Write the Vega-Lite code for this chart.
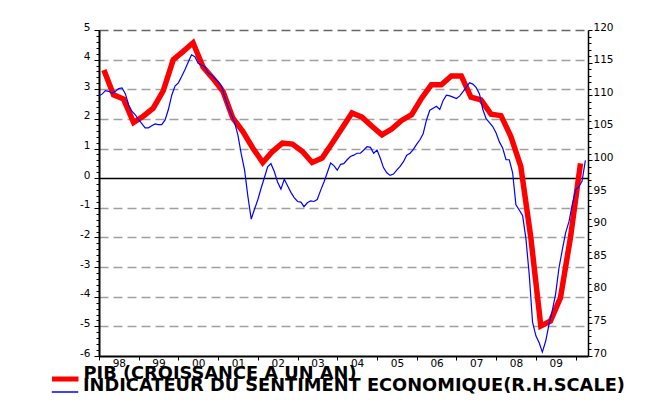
{
  "$schema": "https://vega.github.io/schema/vega-lite/v6.json",
  "width": 489,
  "height": 326,
  "autosize": {"type": "none"},
  "padding": {"left": 99, "top": 30, "right": 73, "bottom": 47},
  "background": "white",
  "config": {
    "view": {"stroke": null},
    "font": "DejaVu Sans",
    "axis": {"labelFont": "DejaVu Sans", "labelFontSize": 10.5, "labelColor": "#000000", "tickColor": "#000000", "domainColor": "#000000", "title": null, "labelOverlap": false},
    "legend": {"orient": "none", "title": null, "symbolType": "stroke", "symbolSize": 700, "labelFont": "DejaVu Sans", "labelFontWeight": "bold", "labelFontSize": 17.8, "labelColor": "#000000", "labelLimit": 0, "clipHeight": 12, "rowPadding": 0, "padding": 0}
  },
  "datasets": {
    "pib": [
      {"date": "1998-02-15", "value": 3.65}, {"date": "1998-05-15", "value": 2.81}, {"date": "1998-08-15", "value": 2.67}, {"date": "1998-11-15", "value": 1.88},
      {"date": "1999-02-15", "value": 2.1}, {"date": "1999-05-15", "value": 2.36}, {"date": "1999-08-15", "value": 2.95}, {"date": "1999-11-15", "value": 4.0},
      {"date": "2000-02-15", "value": 4.28}, {"date": "2000-05-15", "value": 4.57}, {"date": "2000-08-15", "value": 3.75}, {"date": "2000-11-15", "value": 3.36},
      {"date": "2001-02-15", "value": 2.92}, {"date": "2001-05-15", "value": 2.03}, {"date": "2001-08-15", "value": 1.58}, {"date": "2001-11-15", "value": 1.02},
      {"date": "2002-02-15", "value": 0.53}, {"date": "2002-05-15", "value": 0.9}, {"date": "2002-08-15", "value": 1.18}, {"date": "2002-11-15", "value": 1.15},
      {"date": "2003-02-15", "value": 0.9}, {"date": "2003-05-15", "value": 0.53}, {"date": "2003-08-15", "value": 0.68}, {"date": "2003-11-15", "value": 1.18},
      {"date": "2004-02-15", "value": 1.69}, {"date": "2004-05-15", "value": 2.2}, {"date": "2004-08-15", "value": 2.06}, {"date": "2004-11-15", "value": 1.75},
      {"date": "2005-02-15", "value": 1.46}, {"date": "2005-05-15", "value": 1.66}, {"date": "2005-08-15", "value": 1.95}, {"date": "2005-11-15", "value": 2.14},
      {"date": "2006-02-15", "value": 2.7}, {"date": "2006-05-15", "value": 3.15}, {"date": "2006-08-15", "value": 3.15}, {"date": "2006-11-15", "value": 3.45},
      {"date": "2007-02-15", "value": 3.45}, {"date": "2007-05-15", "value": 2.73}, {"date": "2007-08-15", "value": 2.64}, {"date": "2007-11-15", "value": 2.16},
      {"date": "2008-02-15", "value": 2.11}, {"date": "2008-05-15", "value": 1.41}, {"date": "2008-08-15", "value": 0.4}, {"date": "2008-11-15", "value": -2.0},
      {"date": "2009-02-15", "value": -4.99}, {"date": "2009-05-15", "value": -4.82}, {"date": "2009-08-15", "value": -4.03}, {"date": "2009-11-15", "value": -2.0},
      {"date": "2010-02-15", "value": 0.5}
    ],
    "esi": [
      {"date": "1998-01-01", "value": 109.9}, {"date": "1998-02-01", "value": 110.2}, {"date": "1998-03-01", "value": 110.7}, {"date": "1998-04-01", "value": 110.6}, {"date": "1998-05-01", "value": 110.3}, {"date": "1998-06-01", "value": 110.6}, {"date": "1998-07-01", "value": 111.0}, {"date": "1998-08-01", "value": 111.1}, {"date": "1998-09-01", "value": 110.2}, {"date": "1998-10-01", "value": 108.5}, {"date": "1998-11-01", "value": 107.5}, {"date": "1998-12-01", "value": 107.0},
      {"date": "1999-01-01", "value": 106.2}, {"date": "1999-02-01", "value": 105.6}, {"date": "1999-03-01", "value": 105.0}, {"date": "1999-04-01", "value": 105.0}, {"date": "1999-05-01", "value": 105.3}, {"date": "1999-06-01", "value": 105.6}, {"date": "1999-07-01", "value": 105.5}, {"date": "1999-08-01", "value": 105.5}, {"date": "1999-09-01", "value": 106.2}, {"date": "1999-10-01", "value": 107.8}, {"date": "1999-11-01", "value": 110.0}, {"date": "1999-12-01", "value": 111.4},
      {"date": "2000-01-01", "value": 111.9}, {"date": "2000-02-01", "value": 112.9}, {"date": "2000-03-01", "value": 113.9}, {"date": "2000-04-01", "value": 115.1}, {"date": "2000-05-01", "value": 116.2}, {"date": "2000-06-01", "value": 115.9}, {"date": "2000-07-01", "value": 114.9}, {"date": "2000-08-01", "value": 114.6}, {"date": "2000-09-01", "value": 114.4}, {"date": "2000-10-01", "value": 113.4}, {"date": "2000-11-01", "value": 113.1}, {"date": "2000-12-01", "value": 112.6},
      {"date": "2001-01-01", "value": 112.1}, {"date": "2001-02-01", "value": 111.4}, {"date": "2001-03-01", "value": 109.8}, {"date": "2001-04-01", "value": 108.3}, {"date": "2001-05-01", "value": 107.1}, {"date": "2001-06-01", "value": 105.8}, {"date": "2001-07-01", "value": 103.9}, {"date": "2001-08-01", "value": 101.0}, {"date": "2001-09-01", "value": 98.5}, {"date": "2001-10-01", "value": 94.5}, {"date": "2001-11-01", "value": 91.0}, {"date": "2001-12-01", "value": 92.5},
      {"date": "2002-01-01", "value": 94.0}, {"date": "2002-02-01", "value": 95.8}, {"date": "2002-03-01", "value": 97.3}, {"date": "2002-04-01", "value": 99.0}, {"date": "2002-05-01", "value": 99.5}, {"date": "2002-06-01", "value": 98.3}, {"date": "2002-07-01", "value": 96.7}, {"date": "2002-08-01", "value": 95.6}, {"date": "2002-09-01", "value": 97.1}, {"date": "2002-10-01", "value": 96.1}, {"date": "2002-11-01", "value": 95.1}, {"date": "2002-12-01", "value": 94.3},
      {"date": "2003-01-01", "value": 93.7}, {"date": "2003-02-01", "value": 93.6}, {"date": "2003-03-01", "value": 92.9}, {"date": "2003-04-01", "value": 93.5}, {"date": "2003-05-01", "value": 93.8}, {"date": "2003-06-01", "value": 93.7}, {"date": "2003-07-01", "value": 94.0}, {"date": "2003-08-01", "value": 95.4}, {"date": "2003-09-01", "value": 96.7}, {"date": "2003-10-01", "value": 98.1}, {"date": "2003-11-01", "value": 99.6}, {"date": "2003-12-01", "value": 99.2},
      {"date": "2004-01-01", "value": 98.5}, {"date": "2004-02-01", "value": 99.4}, {"date": "2004-03-01", "value": 99.5}, {"date": "2004-04-01", "value": 100.1}, {"date": "2004-05-01", "value": 100.6}, {"date": "2004-06-01", "value": 100.8}, {"date": "2004-07-01", "value": 101.1}, {"date": "2004-08-01", "value": 101.1}, {"date": "2004-09-01", "value": 101.6}, {"date": "2004-10-01", "value": 102.1}, {"date": "2004-11-01", "value": 102.0}, {"date": "2004-12-01", "value": 101.1},
      {"date": "2005-01-01", "value": 101.6}, {"date": "2005-02-01", "value": 100.3}, {"date": "2005-03-01", "value": 98.9}, {"date": "2005-04-01", "value": 98.1}, {"date": "2005-05-01", "value": 97.7}, {"date": "2005-06-01", "value": 97.9}, {"date": "2005-07-01", "value": 98.5}, {"date": "2005-08-01", "value": 99.1}, {"date": "2005-09-01", "value": 99.8}, {"date": "2005-10-01", "value": 100.8}, {"date": "2005-11-01", "value": 101.1}, {"date": "2005-12-01", "value": 101.7},
      {"date": "2006-01-01", "value": 102.5}, {"date": "2006-02-01", "value": 103.2}, {"date": "2006-03-01", "value": 104.1}, {"date": "2006-04-01", "value": 106.2}, {"date": "2006-05-01", "value": 107.7}, {"date": "2006-06-01", "value": 108.0}, {"date": "2006-07-01", "value": 108.3}, {"date": "2006-08-01", "value": 107.8}, {"date": "2006-09-01", "value": 109.2}, {"date": "2006-10-01", "value": 110.0}, {"date": "2006-11-01", "value": 109.9}, {"date": "2006-12-01", "value": 109.7},
      {"date": "2007-01-01", "value": 109.5}, {"date": "2007-02-01", "value": 109.9}, {"date": "2007-03-01", "value": 110.5}, {"date": "2007-04-01", "value": 111.2}, {"date": "2007-05-01", "value": 111.9}, {"date": "2007-06-01", "value": 111.7}, {"date": "2007-07-01", "value": 111.2}, {"date": "2007-08-01", "value": 110.2}, {"date": "2007-09-01", "value": 107.8}, {"date": "2007-10-01", "value": 106.4}, {"date": "2007-11-01", "value": 105.8}, {"date": "2007-12-01", "value": 105.2},
      {"date": "2008-01-01", "value": 104.2}, {"date": "2008-02-01", "value": 102.8}, {"date": "2008-03-01", "value": 101.9}, {"date": "2008-04-01", "value": 100.1}, {"date": "2008-05-01", "value": 100.1}, {"date": "2008-06-01", "value": 98.1}, {"date": "2008-07-01", "value": 93.2}, {"date": "2008-08-01", "value": 92.4}, {"date": "2008-09-01", "value": 91.5}, {"date": "2008-10-01", "value": 88.0}, {"date": "2008-11-01", "value": 82.4}, {"date": "2008-12-01", "value": 75.2},
      {"date": "2009-01-01", "value": 73.1}, {"date": "2009-02-01", "value": 72.0}, {"date": "2009-03-01", "value": 70.6}, {"date": "2009-04-01", "value": 72.3}, {"date": "2009-05-01", "value": 74.8}, {"date": "2009-06-01", "value": 77.0}, {"date": "2009-07-01", "value": 79.5}, {"date": "2009-08-01", "value": 83.5}, {"date": "2009-09-01", "value": 86.3}, {"date": "2009-10-01", "value": 88.9}, {"date": "2009-11-01", "value": 90.6}, {"date": "2009-12-01", "value": 93.2},
      {"date": "2010-01-01", "value": 95.5}, {"date": "2010-02-01", "value": 96.0}, {"date": "2010-03-01", "value": 96.8}, {"date": "2010-04-01", "value": 100.0}
    ]
  },
  "encoding": {
    "x": {
      "field": "date",
      "type": "temporal",
      "scale": {"type": "utc", "domain": [{"year": 1998, "month": 1, "date": 1, "utc": true}, {"year": 2010, "month": 4, "date": 25, "utc": true}]},
      "axis": {
        "values": [
          {"year": 1998, "month": 1, "date": 1, "utc": true}, {"year": 1999, "month": 1, "date": 1, "utc": true}, {"year": 2000, "month": 1, "date": 1, "utc": true},
          {"year": 2001, "month": 1, "date": 1, "utc": true}, {"year": 2002, "month": 1, "date": 1, "utc": true}, {"year": 2003, "month": 1, "date": 1, "utc": true},
          {"year": 2004, "month": 1, "date": 1, "utc": true}, {"year": 2005, "month": 1, "date": 1, "utc": true}, {"year": 2006, "month": 1, "date": 1, "utc": true},
          {"year": 2007, "month": 1, "date": 1, "utc": true}, {"year": 2008, "month": 1, "date": 1, "utc": true}, {"year": 2009, "month": 1, "date": 1, "utc": true},
          {"year": 2010, "month": 1, "date": 1, "utc": true}
        ],
        "labelExpr": "utcFormat(datum.value, '%Y') === '2010' ? '' : utcFormat(datum.value, '%y')",
        "labelOffset": 19.85,
        "labelAlign": "center",
        "labelFlush": false,
        "labelBaseline": "top",
        "labelPadding": -2,
        "tickSize": 4,
        "domainWidth": 2,
        "grid": false
      }
    }
  },
  "layer": [
    {
      "data": {"name": "pib"},
      "mark": {"type": "line", "strokeWidth": 5.5},
      "encoding": {
        "y": {
          "field": "value",
          "type": "quantitative",
          "scale": {"domain": [-6, 5], "nice": false, "zero": false},
          "axis": {
            "orient": "left",
            "values": [-6,-5.8,-5.6,-5.4,-5.2,-5,-4.8,-4.6,-4.4,-4.2,-4,-3.8,-3.6,-3.4,-3.2,-3,-2.8,-2.6,-2.4,-2.2,-2,-1.8,-1.6,-1.4,-1.2,-1,-0.8,-0.6,-0.4,-0.2,0,0.2,0.4,0.6,0.8,1,1.2,1.4,1.6,1.8,2,2.2,2.4,2.6,2.8,3,3.2,3.4,3.6,3.8,4,4.2,4.4,4.6,4.8,5],
            "labelExpr": "abs(datum.value - round(datum.value)) < 0.01 ? '' + round(datum.value) : ''",
            "labelBaseline": "alphabetic",
            "labelPadding": 4,
            "tickSize": {"condition": {"test": "abs(datum.value - round(datum.value)) < 0.01", "value": 5}, "value": 3},
            "domainWidth": 2,
            "grid": true,
            "gridOpacity": {"condition": {"test": "abs(datum.value - round(datum.value)) > 0.01 || datum.value === -6", "value": 0}, "value": 1},
            "gridColor": {"condition": [{"test": "datum.value === 0", "value": "#000000"}, {"test": "datum.value === 5", "value": "#666666"}], "value": "#a0a0a0"},
            "gridDash": {"condition": {"test": "datum.value === 0", "value": []}, "value": [9, 5]},
            "gridWidth": 1.3
          }
        },
        "color": {
          "datum": "PIB (CROISSANCE A UN AN)",
          "scale": {"domain": ["PIB (CROISSANCE A UN AN)"], "range": ["#ff0000"]},
          "legend": {
            "legendX": -49.75,
            "legendY": 343,
            "labelOffset": 2.25,
            "symbolStrokeWidth": 5,
            "encode": {"labels": {"update": {"dy": {"value": -5}}}}
          }
        }
      }
    },
    {
      "data": {"name": "esi"},
      "mark": {"type": "line", "strokeWidth": 1.2},
      "encoding": {
        "y": {
          "field": "value",
          "type": "quantitative",
          "scale": {"domain": [70, 120], "nice": false, "zero": false},
          "axis": {
            "orient": "right",
            "values": [70,71,72,73,74,75,76,77,78,79,80,81,82,83,84,85,86,87,88,89,90,91,92,93,94,95,96,97,98,99,100,101,102,103,104,105,106,107,108,109,110,111,112,113,114,115,116,117,118,119,120],
            "labelExpr": "datum.value % 5 === 0 ? '' + datum.value : ''",
            "labelBaseline": "alphabetic",
            "labelPadding": 1,
            "tickSize": {"condition": {"test": "datum.value % 5 === 0", "value": 4}, "value": 3},
            "domainWidth": 1.5,
            "grid": false
          }
        },
        "color": {
          "datum": "INDICATEUR DU SENTIMENT ECONOMIQUE(R.H.SCALE)",
          "scale": {"domain": ["INDICATEUR DU SENTIMENT ECONOMIQUE(R.H.SCALE)"], "range": ["#0000ff"]},
          "legend": {
            "legendX": -48,
            "legendY": 356,
            "labelOffset": 4,
            "symbolStrokeWidth": 1.5,
            "encode": {"labels": {"update": {"dy": {"value": -6}}}}
          }
        }
      }
    }
  ],
  "resolve": {"scale": {"y": "independent", "color": "independent"}}
}
